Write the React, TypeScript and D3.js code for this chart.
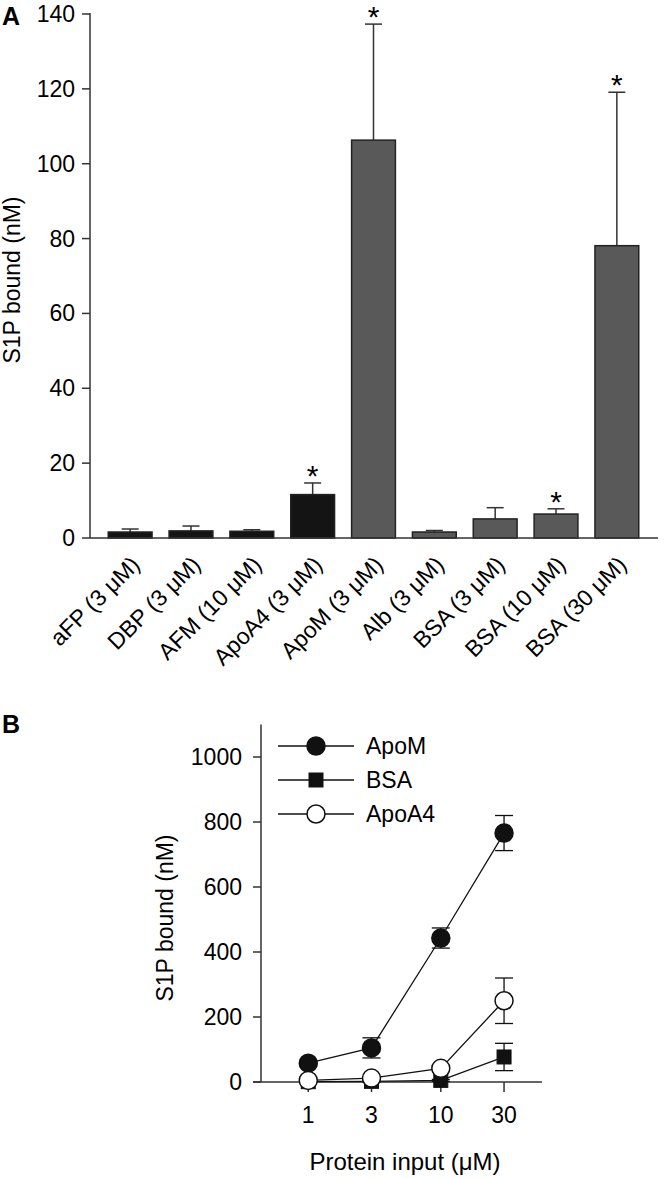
import React from 'react';
import { scaleBand, scaleLinear, scaleLog, line } from 'd3';

// panel A
const proteins = ['aFP (3 μM)', 'DBP (3 μM)', 'AFM (10 μM)', 'ApoA4 (3 μM)', 'ApoM (3 μM)', 'Alb (3 μM)', 'BSA (3 μM)', 'BSA (10 μM)', 'BSA (30 μM)'];
const boundMean = [1.6, 1.9, 1.8, 11.6, 106.3, 1.6, 5.1, 6.4, 78.1];
const boundErr = [0.8, 1.3, 0.4, 3.1, 31, 0.4, 3.0, 1.4, 41];
const significant = [false, false, false, true, true, false, false, true, true];
const darkBar = [true, true, true, true, false, false, false, false, false];
const yTicksA = [0, 20, 40, 60, 80, 100, 120, 140];

// panel B
const inputs = [1, 3, 10, 30];
const apoM = [58, 105, 443, 766];
const apoMErr = [6, 31, 31, 54];
const bsa = [1, 2, 5, 77];
const bsaErr = [1, 2, 3, 42];
const apoA4 = [5, 12, 42, 250];
const apoA4Err = [3, 4, 6, 70];
const yTicksB = [0, 200, 400, 600, 800, 1000];
const seriesNames = ['ApoM', 'BSA', 'ApoA4'];

const font = '"Liberation Sans", Arial, Helvetica, sans-serif';
const fs = 23;
const ink = '#222';

export default function App() {
  // ---- A
  const x = scaleBand().domain(proteins).range([90, 657]).paddingInner(0.28).paddingOuter(0.3);
  const y = scaleLinear().domain([0, 140]).range([538, 14]);

  // ---- B
  const xb = scaleLog().domain([0.44, 58]).range([261, 542]);
  const yb = scaleLinear().domain([0, 1100]).range([1082, 724.5]);
  const lineB = line<number>().x((d, i) => xb(inputs[i])).y(d => yb(d));

  const series = [
    { name: seriesNames[0], v: apoM, e: apoMErr, shape: 'circle', fill: '#111' },
    { name: seriesNames[1], v: bsa, e: bsaErr, shape: 'square', fill: '#111' },
    { name: seriesNames[2], v: apoA4, e: apoA4Err, shape: 'circle', fill: '#fff' },
  ];

  const marker = (shape: string, fill: string, cx: number, cy: number, key?: any) =>
    shape === 'circle'
      ? <circle key={key} cx={cx} cy={cy} r={9} fill={fill} stroke="#111" strokeWidth={1.5} />
      : <rect key={key} x={cx - 7} y={cy - 7} width={14} height={14} fill={fill} stroke="#111" strokeWidth={1} />;

  return (
    <svg width={667} height={1179} style={{ position: 'absolute', left: 0, top: 0, fontFamily: font }}>
      <rect width={667} height={1179} fill="#fff" />
      {/* panel A */}
      <text x={2} y={25} fontSize={25} fontWeight="bold">A</text>
      <text transform={`translate(20,280) rotate(-90)`} textAnchor="middle" fontSize={fs}>S1P bound (nM)</text>
      {proteins.map((p, i) => {
        const bx = x(p)!;
        const cx = bx + x.bandwidth() / 2;
        const top = y(boundMean[i] + boundErr[i]);
        return (
          <g key={p}>
            <line x1={cx} x2={cx} y1={y(boundMean[i])} y2={top} stroke="#333" strokeWidth={1.5} />
            <line x1={cx - 8.5} x2={cx + 8.5} y1={top} y2={top} stroke="#333" strokeWidth={1.5} />
            <rect x={bx} y={y(boundMean[i])} width={x.bandwidth()} height={y(0) - y(boundMean[i])}
              fill={darkBar[i] ? '#141414' : '#595959'} stroke={ink} strokeWidth={1.5} />
            {significant[i] && (
              <text x={cx} y={top + 3} textAnchor="middle" fontSize={30}>*</text>
            )}
            <text transform={`translate(${cx + 11},566) rotate(-45)`} textAnchor="end" fontSize={fs}>{p}</text>
          </g>
        );
      })}
      <line x1={90} x2={90} y1={13} y2={538} stroke="#333" strokeWidth={1.5} />
      <line x1={90} x2={658} y1={538} y2={538} stroke="#333" strokeWidth={1.5} />
      {yTicksA.map(t => (
        <g key={t}>
          <line x1={82} x2={90} y1={y(t)} y2={y(t)} stroke="#333" strokeWidth={1.5} />
          <text x={75} y={y(t)} dy="0.35em" textAnchor="end" fontSize={fs}>{t}</text>
        </g>
      ))}

      {/* panel B */}
      <text x={2} y={733} fontSize={25} fontWeight="bold">B</text>
      <text transform={`translate(173,918) rotate(-90)`} textAnchor="middle" fontSize={fs}>S1P bound (nM)</text>
      <line x1={261} x2={261} y1={724.5} y2={1082} stroke="#333" strokeWidth={1.5} />
      <line x1={253} x2={542} y1={1082} y2={1082} stroke="#333" strokeWidth={1.5} />
      {yTicksB.map(t => (
        <g key={t}>
          <line x1={253} x2={261} y1={yb(t)} y2={yb(t)} stroke="#333" strokeWidth={1.5} />
          <text x={242} y={yb(t)} dy="0.35em" textAnchor="end" fontSize={fs}>{t}</text>
        </g>
      ))}
      {inputs.map(t => (
        <g key={t}>
          <line x1={xb(t)} x2={xb(t)} y1={1082} y2={1092} stroke="#333" strokeWidth={1.5} />
          <text x={xb(t)} y={1123} textAnchor="middle" fontSize={fs}>{t}</text>
        </g>
      ))}
      <text x={405} y={1170} textAnchor="middle" fontSize={24}>Protein input (μM)</text>

      {series.map(s => (
        <g key={s.name}>
          <path d={lineB(s.v)!} fill="none" stroke="#111" strokeWidth={1.3} />
          {s.v.map((v, i) => {
            const cx = xb(inputs[i]);
            const hi = yb(v + s.e[i]), lo = yb(Math.max(0, v - s.e[i]));
            return (
              <g key={i}>
                <line x1={cx} x2={cx} y1={hi} y2={lo} stroke="#111" strokeWidth={1.3} />
                <line x1={cx - 9} x2={cx + 9} y1={hi} y2={hi} stroke="#111" strokeWidth={1.3} />
                <line x1={cx - 9} x2={cx + 9} y1={lo} y2={lo} stroke="#111" strokeWidth={1.3} />
              </g>
            );
          })}
          {s.v.map((v, i) => marker(s.shape, s.fill, xb(inputs[i]), yb(v), 'm' + i))}
        </g>
      ))}

      {series.map((s, i) => {
        const ly = 746 + i * 34;
        return (
          <g key={'lg' + s.name}>
            <line x1={278} x2={354} y1={ly} y2={ly} stroke="#111" strokeWidth={1.3} />
            {marker(s.shape, s.fill, 316, ly)}
            <text x={366} y={ly} dy="0.35em" fontSize={fs}>{s.name}</text>
          </g>
        );
      })}
    </svg>
  );
}
